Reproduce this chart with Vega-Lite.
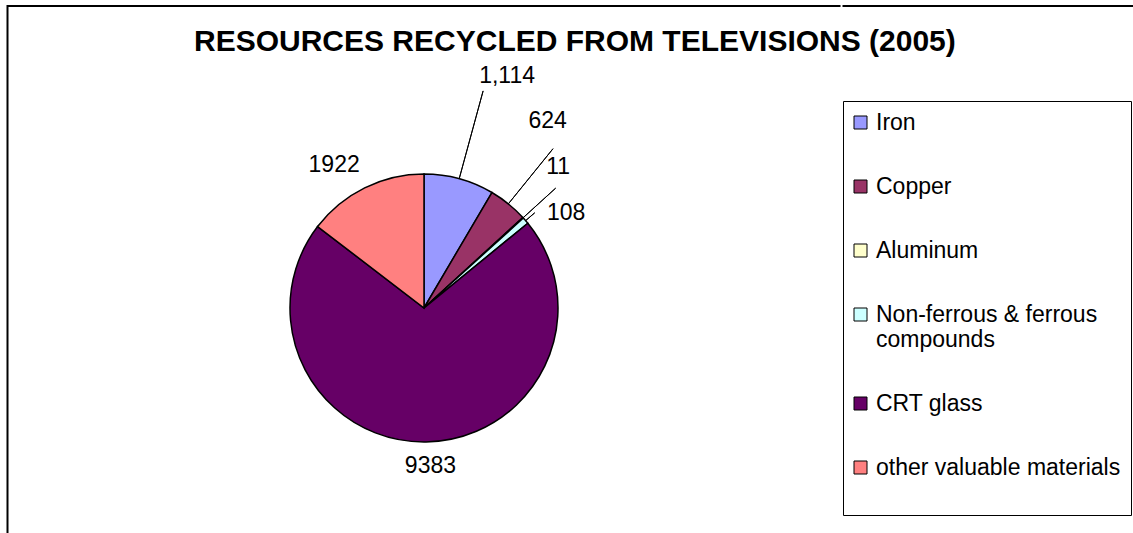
{
  "$schema": "https://vega.github.io/schema/vega-lite/v6.json",
  "padding": {"left": 6.5, "top": 5, "right": 0, "bottom": 0},
  "background": "white",
  "title": {
    "text": "RESOURCES RECYCLED FROM TELEVISIONS (2005)",
    "font": "Liberation Sans",
    "fontSize": 30,
    "fontWeight": "bold",
    "color": "black",
    "anchor": "start",
    "frame": "group",
    "offset": 0,
    "dx": 186.5,
    "dy": 52
  },
  "spacing": 0,
  "hconcat": [
    {
      "width": 833,
      "height": 604,
      "view": {"stroke": "black", "strokeWidth": 2, "strokeDash": [833, 1437, 604]},
      "data": {
        "values": [
          {"cat": "Iron", "value": 1114, "label": "1,114", "order": 1},
          {"cat": "Copper", "value": 624, "label": "624", "order": 2},
          {"cat": "Aluminum", "value": 11, "label": "11", "order": 3},
          {"cat": "Non-ferrous & ferrous compounds", "value": 108, "label": "108", "order": 4},
          {"cat": "CRT glass", "value": 9383, "label": "9383", "order": 5},
          {"cat": "other valuable materials", "value": 1922, "label": "1922", "order": 6}
        ]
      },
      "encoding": {
        "theta": {"field": "value", "type": "quantitative", "stack": true},
        "order": {"field": "order", "type": "quantitative"}
      },
      "layer": [
        {
          "mark": {"type": "arc", "radius": 134, "stroke": "black", "strokeWidth": 1.5},
          "encoding": {
            "color": {
              "field": "cat",
              "type": "nominal",
              "scale": {
                "domain": ["Iron", "Copper", "Aluminum", "Non-ferrous & ferrous compounds", "CRT glass", "other valuable materials"],
                "range": ["#9999FF", "#993366", "#FFFFCC", "#CCFFFF", "#660066", "#FF8080"]
              },
              "legend": {
                "labelExpr": "datum.label === 'Non-ferrous & ferrous compounds' ? ['Non-ferrous & ferrous', 'compounds'] : datum.label === 'other valuable materials' ? ['other valuable materials', ''] : datum.label"
              }
            }
          }
        },
        {
          "mark": {"type": "arc", "radius": 225, "radius2": 134, "padAngle": 3, "filled": false, "stroke": "black", "strokeWidth": 1},
          "encoding": {"strokeOpacity": {"condition": {"test": "datum.cat === 'Iron'", "value": 1}, "value": 0}}
        },
        {
          "mark": {"type": "arc", "radius": 205, "radius2": 134, "padAngle": 3, "filled": false, "stroke": "black", "strokeWidth": 1},
          "encoding": {"strokeOpacity": {"condition": {"test": "datum.cat === 'Copper'", "value": 1}, "value": 0}}
        },
        {
          "mark": {"type": "arc", "radius": 178, "radius2": 134, "padAngle": 3, "filled": false, "stroke": "black", "strokeWidth": 1},
          "encoding": {"strokeOpacity": {"condition": {"test": "datum.cat === 'Aluminum'", "value": 1}, "value": 0}}
        },
        {
          "mark": {"type": "arc", "radius": 146, "radius2": 134, "padAngle": 3, "filled": false, "stroke": "black", "strokeWidth": 1},
          "encoding": {"strokeOpacity": {"condition": {"test": "datum.cat === 'Non-ferrous & ferrous compounds'", "value": 1}, "value": 0}}
        },
        {
          "mark": {"type": "text", "radius": 240, "dx": 20, "dy": 0, "font": "Liberation Sans", "fontSize": 23, "color": "black"},
          "encoding": {"text": {"condition": {"test": "datum.cat === 'Iron'", "field": "label"}, "value": ""}}
        },
        {
          "mark": {"type": "text", "radius": 225, "dx": -18, "dy": -12.5, "font": "Liberation Sans", "fontSize": 23, "color": "black"},
          "encoding": {"text": {"condition": {"test": "datum.cat === 'Copper'", "field": "label"}, "value": ""}}
        },
        {
          "mark": {"type": "text", "radius": 195, "dx": -10, "dy": -10, "font": "Liberation Sans", "fontSize": 23, "color": "black"},
          "encoding": {"text": {"condition": {"test": "datum.cat === 'Aluminum'", "field": "label"}, "value": ""}}
        },
        {
          "mark": {"type": "text", "radius": 171, "dx": 12.5, "dy": 16.5, "font": "Liberation Sans", "fontSize": 23, "color": "black"},
          "encoding": {"text": {"condition": {"test": "datum.cat === 'Non-ferrous & ferrous compounds'", "field": "label"}, "value": ""}}
        },
        {
          "mark": {"type": "text", "radius": 158, "dx": 4, "dy": 0, "font": "Liberation Sans", "fontSize": 23, "color": "black"},
          "encoding": {"text": {"condition": {"test": "datum.cat === 'CRT glass'", "field": "label"}, "value": ""}}
        },
        {
          "mark": {"type": "text", "radius": 169, "dx": -15, "dy": 8.5, "font": "Liberation Sans", "fontSize": 23, "color": "black"},
          "encoding": {"text": {"condition": {"test": "datum.cat === 'other valuable materials'", "field": "label"}, "value": ""}}
        }
      ]
    },
    {
      "width": 300,
      "height": 604,
      "view": {"stroke": "black", "strokeWidth": 2, "strokeDash": [300, 2000]},
      "data": {"values": []},
      "mark": "text",
      "encoding": {}
    }
  ],
  "config": {
    "legend": {
      "orient": "none",
      "legendX": 835.5,
      "legendY": 95,
      "title": null,
      "symbolType": "square",
      "symbolSize": 169,
      "symbolStrokeColor": "black",
      "symbolStrokeWidth": 1,
      "symbolOpacity": 1,
      "symbolOffset": -4,
      "labelFont": "Liberation Sans",
      "labelFontSize": 23,
      "labelColor": "black",
      "labelLimit": 400,
      "labelOffset": 4,
      "rowPadding": 40,
      "padding": 10,
      "strokeColor": "black",
      "strokeWidth": 1,
      "fillColor": "white"
    }
  }
}
